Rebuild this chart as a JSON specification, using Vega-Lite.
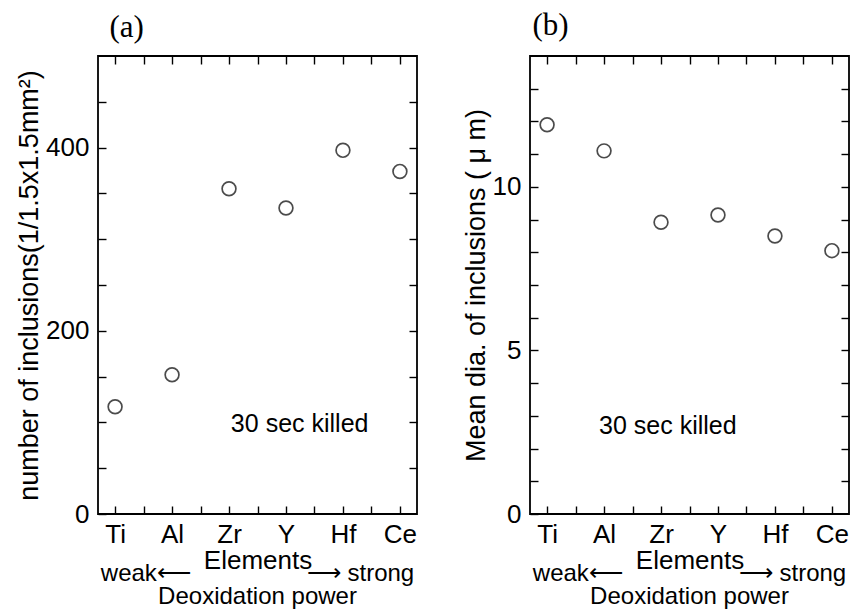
{
  "$schema": "https://vega.github.io/schema/vega-lite/v6.json",
  "background": "white",
  "padding": {"left": 14, "top": 8, "right": 0, "bottom": 0},
  "spacing": 42,
  "config": {
    "view": {"stroke": "black", "strokeWidth": 1.8},
    "font": "Liberation Sans",
    "axis": {
      "domain": false, "grid": false, "tickColor": "black", "tickSize": -8, "tickWidth": 1.4,
      "labelColor": "black", "titleColor": "black", "labelFont": "Liberation Sans", "titleFont": "Liberation Sans",
      "labelFontSize": 26, "titleFontSize": 26, "titleFontWeight": "normal", "labelOverlap": false, "labelFlush": false
    }
  },
  "datasets": {
    "a": [
      {"element": "Ti", "order": 1, "count": 117},
      {"element": "Al", "order": 2, "count": 152},
      {"element": "Zr", "order": 3, "count": 355},
      {"element": "Y", "order": 4, "count": 334},
      {"element": "Hf", "order": 5, "count": 397},
      {"element": "Ce", "order": 6, "count": 374}
    ],
    "b": [
      {"element": "Ti", "order": 1, "dia": 11.9},
      {"element": "Al", "order": 2, "dia": 11.1},
      {"element": "Zr", "order": 3, "dia": 8.92},
      {"element": "Y", "order": 4, "dia": 9.14},
      {"element": "Hf", "order": 5, "dia": 8.5},
      {"element": "Ce", "order": 6, "dia": 8.05}
    ]
  },
  "hconcat": [
    {
      "width": 319, "height": 458,
      "data": {"name": "a"},
      "title": {"text": ["weak⟵\u2003\u2003\u2003\u2003\u00a0\u00a0\u00a0⟶ strong", "Deoxidation power"], "orient": "bottom", "anchor": "middle", "font": "Liberation Sans", "fontSize": 24, "fontWeight": "normal", "color": "black", "lineHeight": 23, "offset": -11},
      "layer": [
        {
          "mark": {"type": "point", "shape": "circle", "filled": false, "size": 190, "strokeWidth": 1.7, "color": "black"},
          "encoding": {
            "x": {"field": "order", "type": "quantitative", "scale": {"domain": [0.7, 6.3], "nice": false},
              "axis": {"orient": "bottom", "values": [1, 1.5, 2, 2.5, 3, 3.5, 4, 4.5, 5, 5.5, 6],
                "labelExpr": "datum.value % 1 == 0 ? ['','Ti','Al','Zr','Y','Hf','Ce'][datum.value] : ''",
                "labelPadding": 15, "title": "Elements", "titlePadding": 0}},
            "y": {"field": "count", "type": "quantitative", "scale": {"domain": [0, 500], "nice": false},
              "axis": {"orient": "left", "values": [0, 50, 100, 150, 200, 250, 300, 350, 400, 450],
                "labelExpr": "datum.value % 200 == 0 ? datum.label : ''",
                "labelPadding": 17, "title": "number of inclusions(1/1.5x1.5mm²)", "titleFontSize": 27, "titlePadding": 2}}
          }
        },
        {
          "mark": {"type": "point", "opacity": 0},
          "encoding": {
            "x": {"field": "order", "type": "quantitative",
              "axis": {"orient": "top", "values": [1, 1.5, 2, 2.5, 3, 3.5, 4, 4.5, 5, 5.5, 6], "labels": false,
                "title": "(a)", "titleFont": "Liberation Serif", "titleFontSize": 31, "titleAlign": "left", "titleAnchor": "start", "titleAngle": 0,
                "titleX": 11, "titleY": -29, "titleBaseline": "middle"}},
            "y": {"field": "count", "type": "quantitative",
              "axis": {"orient": "right", "values": [50, 100, 150, 200, 250, 300, 350, 400, 450], "labels": false, "title": null}}
          }
        },
        {
          "data": {"values": [{"note": "30 sec killed"}]},
          "mark": {"type": "text", "fontSize": 25, "fill": "black", "align": "center", "baseline": "middle"},
          "encoding": {
            "x": {"datum": 4.24, "type": "quantitative", "axis": null},
            "y": {"datum": 98, "type": "quantitative", "axis": null},
            "text": {"field": "note", "type": "nominal"}
          }
        }
      ],
      "resolve": {"axis": {"x": "independent", "y": "independent"}}
    },
    {
      "width": 319, "height": 458,
      "data": {"name": "b"},
      "title": {"text": ["weak⟵\u2003\u2003\u2003\u2003\u00a0\u00a0\u00a0⟶ strong", "Deoxidation power"], "orient": "bottom", "anchor": "middle", "font": "Liberation Sans", "fontSize": 24, "fontWeight": "normal", "color": "black", "lineHeight": 23, "offset": -11},
      "layer": [
        {
          "mark": {"type": "point", "shape": "circle", "filled": false, "size": 190, "strokeWidth": 1.7, "color": "black"},
          "encoding": {
            "x": {"field": "order", "type": "quantitative", "scale": {"domain": [0.7, 6.3], "nice": false},
              "axis": {"orient": "bottom", "values": [1, 1.5, 2, 2.5, 3, 3.5, 4, 4.5, 5, 5.5, 6],
                "labelExpr": "datum.value % 1 == 0 ? ['','Ti','Al','Zr','Y','Hf','Ce'][datum.value] : ''",
                "labelPadding": 15, "title": "Elements", "titlePadding": 0}},
            "y": {"field": "dia", "type": "quantitative", "scale": {"domain": [0, 14], "nice": false},
              "axis": {"orient": "left", "values": [0, 1, 2, 3, 4, 5, 6, 7, 8, 9, 10, 11, 12, 13],
                "labelExpr": "datum.value % 5 == 0 ? datum.label : ''",
                "labelPadding": 17, "title": "Mean dia. of inclusions ( μ m)", "titleFontSize": 27, "titlePadding": 2}}
          }
        },
        {
          "mark": {"type": "point", "opacity": 0},
          "encoding": {
            "x": {"field": "order", "type": "quantitative",
              "axis": {"orient": "top", "values": [1, 1.5, 2, 2.5, 3, 3.5, 4, 4.5, 5, 5.5, 6], "labels": false,
                "title": "(b)", "titleFont": "Liberation Serif", "titleFontSize": 31, "titleAlign": "left", "titleAnchor": "start", "titleAngle": 0,
                "titleX": 2, "titleY": -31, "titleBaseline": "middle"}},
            "y": {"field": "dia", "type": "quantitative",
              "axis": {"orient": "right", "values": [1, 2, 3, 4, 5, 6, 7, 8, 9, 10, 11, 12, 13], "labels": false, "title": null}}
          }
        },
        {
          "data": {"values": [{"note": "30 sec killed"}]},
          "mark": {"type": "text", "fontSize": 25, "fill": "black", "align": "center", "baseline": "middle"},
          "encoding": {
            "x": {"datum": 3.12, "type": "quantitative", "axis": null},
            "y": {"datum": 2.69, "type": "quantitative", "axis": null},
            "text": {"field": "note", "type": "nominal"}
          }
        }
      ],
      "resolve": {"axis": {"x": "independent", "y": "independent"}}
    }
  ]
}
